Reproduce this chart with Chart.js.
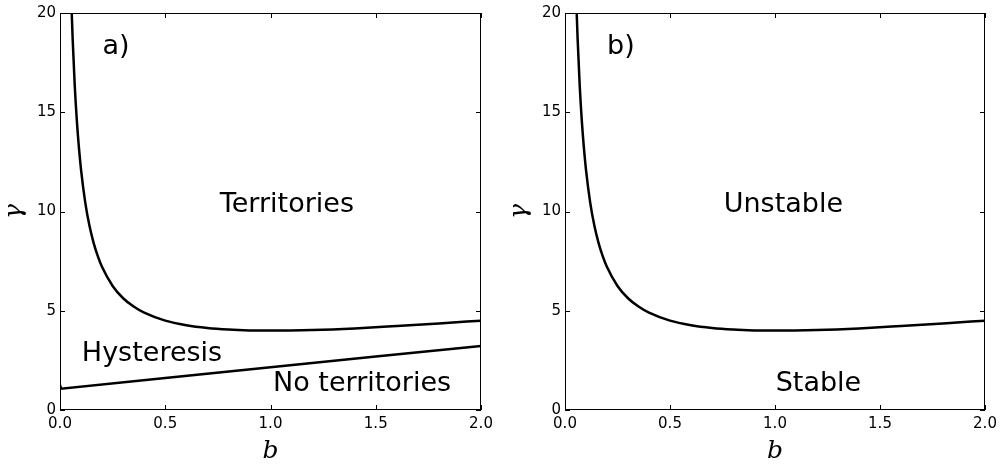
<!DOCTYPE html>
<html>
<head>
<meta charset="utf-8">
<script src="https://cdn.jsdelivr.net/npm/chart.js@4.4.1/dist/chart.umd.min.js"></script>
<style>
  body { margin: 0; background: #fff; width: 1004px; height: 466px; overflow: hidden; }
  .panel { position: absolute; top: 0; height: 466px; }
</style>
</head>
<body>
<div class="panel" style="left:0px;width:500px"><canvas id="leftChart"></canvas></div>
<div class="panel" style="left:505px;width:499px"><canvas id="rightChart"></canvas></div>
<script>
// values
const xTicks = [0.0, 0.5, 1.0, 1.5, 2.0];
const yTicks = [0, 5, 10, 15, 20];

// upper boundary (same curve in both panels)
const upperB     = [0.055, 0.06, 0.07, 0.08, 0.09, 0.10, 0.12, 0.14, 0.16, 0.18, 0.20, 0.25, 0.30, 0.35, 0.40, 0.50, 0.60, 0.70, 0.80, 0.90, 1.00, 1.20, 1.40, 1.60, 1.80, 2.00];
const upperGamma = [20.24, 18.73, 16.36, 14.58, 13.20, 12.10, 10.45, 9.28, 8.41, 7.74, 7.20, 6.25, 5.63, 5.21, 4.90, 4.50, 4.27, 4.13, 4.05, 4.01, 4.00, 4.03, 4.11, 4.23, 4.36, 4.50];

// lower boundary (left panel only)
const lowerB     = [0.0, 0.006, 0.5, 1.0, 1.5, 2.0];
const lowerGamma = [1.25, 1.07, 1.61, 2.15, 2.69, 3.23];

function pts(xs, ys) {
  return xs.map((x, i) => ({ x: x, y: ys[i] }));
}

// frame, inward ticks, axis titles and region labels
const framePlugin = {
  id: 'frame',
  afterDraw(chart, args, opts) {
    const { ctx, chartArea: a, scales: { x, y } } = chart;
    ctx.save();
    ctx.strokeStyle = '#000';
    ctx.lineWidth = 1;
    ctx.strokeRect(a.left + 0.5, a.top + 0.5, a.right - a.left - 1, a.bottom - a.top - 1);
    ctx.beginPath();
    xTicks.forEach(v => {
      const px = Math.round(x.getPixelForValue(v)) + 0.5;
      ctx.moveTo(px, a.bottom); ctx.lineTo(px, a.bottom - 5);
      ctx.moveTo(px, a.top); ctx.lineTo(px, a.top + 5);
    });
    yTicks.forEach(v => {
      const py = Math.round(y.getPixelForValue(v)) + 0.5;
      ctx.moveTo(a.left, py); ctx.lineTo(a.left + 5, py);
      ctx.moveTo(a.right, py); ctx.lineTo(a.right - 5, py);
    });
    ctx.stroke();

    ctx.fillStyle = '#000';
    ctx.textAlign = 'center';
    ctx.textBaseline = 'alphabetic';
    ctx.font = 'italic 25px "DejaVu Serif"';
    ctx.fillText('b', (a.left + a.right) / 2, 458);
    ctx.save();
    ctx.translate(21, (a.top + a.bottom) / 2);
    ctx.rotate(-Math.PI / 2);
    ctx.fillText('γ', 0, 0);
    ctx.restore();

    ctx.font = '27px "DejaVu Sans"';
    (opts.notes || []).forEach(n => {
      ctx.fillText(n.text, x.getPixelForValue(n.x), y.getPixelForValue(n.y));
    });
    ctx.restore();
  }
};

function makeChart(id, datasets, notes) {
  const ctx = document.getElementById(id).getContext('2d');
  return new Chart(ctx, {
    type: 'line',
    data: { datasets: datasets },
    options: {
      responsive: true,
      maintainAspectRatio: false,
      animation: false,
      layout: { padding: { top: 12, right: 19, left: 0, bottom: 0 } },
      plugins: { legend: { display: false }, tooltip: { enabled: false }, frame: { notes: notes } },
      elements: { point: { radius: 0 } },
      scales: {
        x: {
          type: 'linear', min: 0, max: 2,
          grid: { display: false, drawTicks: false, tickLength: 0 },
          border: { display: false },
          afterBuildTicks: s => { s.ticks = xTicks.map(v => ({ value: v })); },
          afterFit: s => { s.height = 56; },
          ticks: { color: '#000', padding: 5, maxRotation: 0, font: { family: 'DejaVu Sans', size: 15 }, callback: v => v.toFixed(1) }
        },
        y: {
          type: 'linear', min: 0, max: 20,
          grid: { display: false, drawTicks: false, tickLength: 0 },
          border: { display: false },
          afterBuildTicks: s => { s.ticks = yTicks.map(v => ({ value: v })); },
          afterFit: s => { s.width = 60; },
          ticks: { color: '#000', padding: 4, font: { family: 'DejaVu Sans', size: 15 } }
        }
      }
    },
    plugins: [framePlugin]
  });
}

const curveStyle = { borderColor: '#000', borderWidth: 2.5, fill: false, cubicInterpolationMode: 'monotone', clip: 0 };
const straightStyle = { borderColor: '#000', borderWidth: 2.5, fill: false, tension: 0, clip: 0 };

makeChart('leftChart', [
  Object.assign({ data: pts(upperB, upperGamma) }, curveStyle),
  Object.assign({ data: pts(lowerB, lowerGamma) }, straightStyle)
], [
  { text: 'a)', x: 0.266, y: 17.95 },
  { text: 'Territories', x: 1.078, y: 9.95 },
  { text: 'Hysteresis', x: 0.437, y: 2.45 },
  { text: 'No territories', x: 1.435, y: 0.95 }
]);

makeChart('rightChart', [
  Object.assign({ data: pts(upperB, upperGamma) }, curveStyle)
], [
  { text: 'b)', x: 0.266, y: 17.95 },
  { text: 'Unstable', x: 1.04, y: 9.95 },
  { text: 'Stable', x: 1.207, y: 0.95 }
]);
</script>
</body>
</html>
